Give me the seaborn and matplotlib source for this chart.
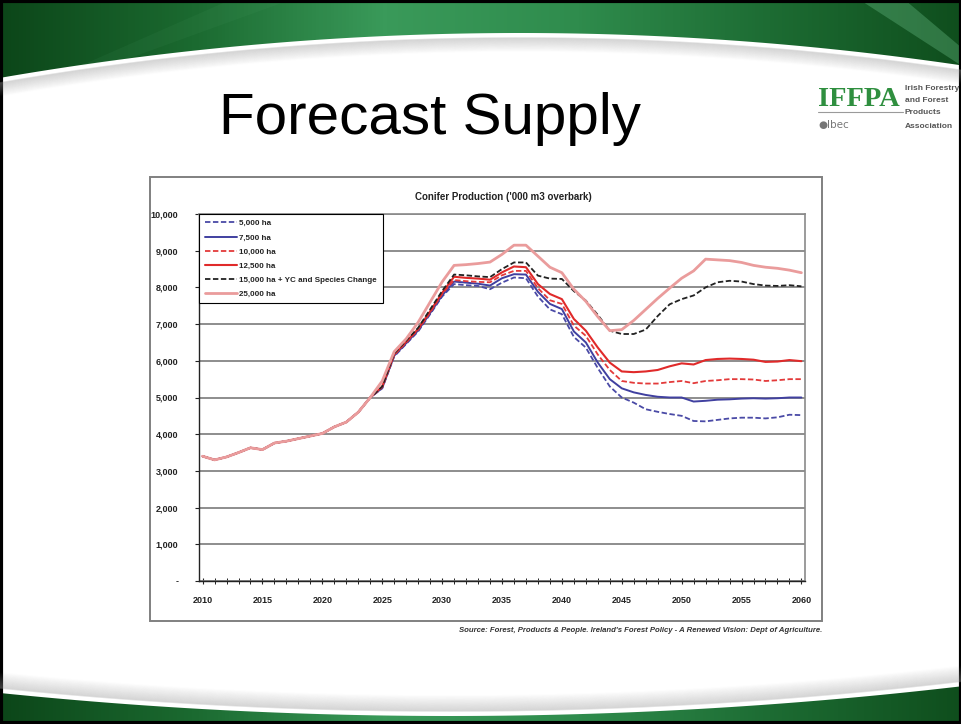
import numpy as np
import matplotlib
matplotlib.use('Agg')
import matplotlib.pyplot as plt
import seaborn as sns
from matplotlib.patches import Polygon, Rectangle
from matplotlib.colors import LinearSegmentedColormap
from matplotlib.ticker import FuncFormatter, MultipleLocator

# ---- data ('000 m3 overbark) ----
years = list(range(2010, 2061))

# all scenarios share the same history/forecast up to 2024
shared_2010_2024 = [3400, 3300, 3380, 3500, 3630, 3580, 3760, 3810, 3880, 3950,
                    4020, 4200, 4330, 4600, 5000]

ha_5000 = shared_2010_2024 + [
    5250, 6120, 6460, 6800, 7270, 7750, 8090, 8060, 8040, 7950,
    8130, 8270, 8250, 7750, 7400, 7270, 6650, 6360, 5800, 5300,
    5000, 4860, 4680, 4610, 4550, 4500, 4360, 4350, 4390, 4430,
    4450, 4450, 4430, 4460, 4530, 4520]
ha_7500 = shared_2010_2024 + [
    5260, 6140, 6480, 6830, 7300, 7780, 8160, 8130, 8100, 8050,
    8250, 8360, 8350, 7880, 7550, 7410, 6800, 6500, 5950, 5500,
    5250, 5140, 5070, 5020, 5000, 5000, 4890, 4910, 4940, 4950,
    4970, 4980, 4970, 4980, 5000, 5000]
ha_10000 = shared_2010_2024 + [
    5280, 6160, 6500, 6850, 7320, 7820, 8200, 8170, 8150, 8140,
    8330, 8450, 8450, 7980, 7650, 7550, 6960, 6680, 6170, 5750,
    5450, 5400, 5380, 5380, 5420, 5450, 5390, 5450, 5470, 5500,
    5500, 5490, 5450, 5470, 5500, 5500]
ha_12500 = shared_2010_2024 + [
    5300, 6180, 6520, 6870, 7350, 7850, 8290, 8260, 8240, 8210,
    8410, 8570, 8550, 8090, 7820, 7680, 7140, 6820, 6360, 5950,
    5710, 5690, 5710, 5750, 5850, 5930, 5900, 6020, 6050, 6060,
    6050, 6030, 5970, 5980, 6020, 5990]
ha_15000_yc = shared_2010_2024 + [
    5300, 6200, 6550, 6900, 7400, 7900, 8350, 8330, 8300, 8280,
    8500, 8680, 8680, 8320, 8240, 8230, 7900, 7640, 7250, 6820,
    6730, 6730, 6850, 7220, 7540, 7680, 7780, 8000, 8140, 8180,
    8160, 8090, 8050, 8040, 8060, 8030]
ha_25000 = shared_2010_2024 + [
    5450, 6250, 6600, 7050, 7600, 8150, 8600, 8620, 8650, 8690,
    8900, 9150, 9150, 8850, 8550, 8400, 7950, 7620, 7200, 6820,
    6850, 7100, 7400, 7700, 7980, 8250, 8450, 8770, 8750, 8730,
    8680, 8600, 8550, 8520, 8470, 8400]

labels = ['5,000 ha', '7,500 ha', '10,000 ha', '12,500 ha',
          '15,000 ha + YC and Species Change', '25,000 ha']
values = [ha_5000, ha_7500, ha_10000, ha_12500, ha_15000_yc, ha_25000]

# styles
colors = ['#4a4aa6', '#4040a0', '#e33a3a', '#e02a2a', '#222222', '#ea9c9c']
dash = (0, (3, 1.4))
linestyles = [dash, '-', dash, '-', dash, '-']
widths = [1.3, 1.4, 1.3, 1.5, 1.3, 2.0]

sns.set_style('white')
plt.rcParams['font.family'] = ['Liberation Sans', 'DejaVu Sans']

W, H = 962, 724
fig = plt.figure(figsize=(W / 100, H / 100), dpi=100)

# ---- slide background ----
bg = fig.add_axes([0, 0, 1, 1], zorder=0)
bg.set_xlim(0, W)
bg.set_ylim(H, 0)
bg.axis('off')

green = LinearSegmentedColormap.from_list(
    'g', ['#0c4619', '#1b6a30', '#3a9a5a', '#2f8c4d', '#1d6c33', '#0f4e1d'])
grad = np.linspace(0, 1, 256)[None, :]

xs = np.linspace(0, W, 300)
top_curve = 33 + 1.66e-4 * (xs - 520) ** 2
top_poly = Polygon([(0, 0)] + list(zip(xs, top_curve)) + [(W, 0)],
                   closed=True, fc='none', ec='none')
bg.add_patch(top_poly)
im = bg.imshow(grad, cmap=green, extent=[0, W, 120, 0], aspect='auto')
im.set_clip_path(top_poly)
# light diagonal highlights
bg.add_patch(Polygon([(860, 0), (905, 0), (W, 48), (W, 66)], closed=True,
                     fc='#6cc08a', ec='none', alpha=0.35))
bg.add_patch(Polygon([(230, 0), (290, 0), (130, 58), (80, 66)], closed=True,
                     fc='#5fae78', ec='none', alpha=0.08))
for i in range(14):
    bg.plot(xs, top_curve + 5 + i, color='#9a9a9a', lw=1.1,
            alpha=0.30 * (1 - i / 14))

bot_curve = 716 - 1.136e-4 * (xs - 450) ** 2
bot_poly = Polygon([(0, H)] + list(zip(xs, bot_curve)) + [(W, H)],
                   closed=True, fc='none', ec='none')
bg.add_patch(bot_poly)
im2 = bg.imshow(grad, cmap=green, extent=[0, W, H, 640], aspect='auto')
im2.set_clip_path(bot_poly)
for i in range(16):
    bg.plot(xs, bot_curve - 5 - i, color='#9a9a9a', lw=1.1,
            alpha=0.30 * (1 - i / 16))

bg.add_patch(Rectangle((1, 1), W - 2, H - 2, fc='none', ec='black', lw=3))

# chart frame
bg.add_patch(Rectangle((150, 177), 672, 444, fc='white', ec='#808080', lw=1.4))

# title and logo
fig.text(430 / W, 1 - 134 / H, 'Forecast Supply', ha='center', va='baseline',
         fontsize=42, color='black')
fig.text(818 / W, 1 - 106 / H, 'IFFPA', ha='left', va='baseline', fontsize=20.5,
         color='#2f8f3f', fontweight='bold',
         family=['Liberation Serif', 'DejaVu Serif'])
bg.plot([818, 903], [112, 112], color='#9a9a9a', lw=0.8)
for txt, yy in zip(['Irish Forestry', 'and Forest', 'Products', 'Association'],
                   [88, 100, 113, 126]):
    fig.text(905 / W, 1 - yy / H, txt, ha='left', va='center', fontsize=6.0,
             color='#555555', fontweight='bold')
fig.text(818 / W, 1 - 125 / H, '\u25cfIbec', ha='left', va='center',
         fontsize=7.5, color='#777777', family=['DejaVu Sans'])

fig.text(503 / W, 1 - 197 / H, "Conifer Production ('000 m3 overbark)",
         ha='center', va='center', fontsize=7, fontweight='bold', color='#222222')
fig.text(822 / W, 1 - 631 / H,
         "Source: Forest, Products & People. Ireland's Forest Policy - "
         "A Renewed Vision: Dept of Agriculture.",
         ha='right', va='center', fontsize=5.6, fontweight='bold',
         style='italic', color='#333333')

# ---- chart ----
ax = fig.add_axes([199 / W, 1 - 581 / H, 606 / W, 367 / H], zorder=2)
for lab, vals, c, ls, lw in zip(labels, values, colors, linestyles, widths):
    sns.lineplot(x=years, y=vals, ax=ax, color=c, linestyle=ls, linewidth=lw,
                 label=lab)

ax.set_xlim(2009.7, 2060.3)
ax.set_ylim(0, 10000)
ax.set_xlabel('')
ax.set_ylabel('')
ax.xaxis.set_major_locator(MultipleLocator(5))
ax.xaxis.set_minor_locator(MultipleLocator(1))
ax.yaxis.set_major_locator(MultipleLocator(1000))
ax.yaxis.set_major_formatter(FuncFormatter(lambda v, p: '-' if v == 0 else f'{v:,.0f}'))
ax.yaxis.grid(True, color='#7a7a7a', lw=1.2)
ax.xaxis.grid(False)
ax.set_axisbelow(True)
for s in ['top', 'right']:
    ax.spines[s].set_color('#8a8a8a')
    ax.spines[s].set_linewidth(1.2)
for s in ['left', 'bottom']:
    ax.spines[s].set_color('#222222')
    ax.spines[s].set_linewidth(1.0)

ax.tick_params(axis='y', which='major', left=True, direction='out', length=3,
               width=0.8, color='#222222', pad=12, labelsize=6.5, labelcolor='#222222')
ax.tick_params(axis='x', which='major', bottom=True, direction='inout', length=5,
               width=0.8, color='#222222', pad=8, labelsize=6.5, labelcolor='#222222')
ax.tick_params(axis='x', which='minor', bottom=True, direction='inout', length=4,
               width=0.7, color='#222222')
for t in ax.get_xticklabels() + ax.get_yticklabels():
    t.set_fontweight('bold')

leg = ax.legend(loc='upper left', bbox_to_anchor=(0, 1), borderaxespad=0,
                frameon=True, fancybox=False, framealpha=1, edgecolor='black',
                prop={'size': 5.8, 'weight': 'bold'}, handlelength=4.0,
                handletextpad=0.3, labelspacing=0.8, borderpad=0.7)
leg.get_frame().set_linewidth(0.8)
for t in leg.get_texts():
    t.set_color('#222222')

fig.savefig('out.png', dpi=100)
